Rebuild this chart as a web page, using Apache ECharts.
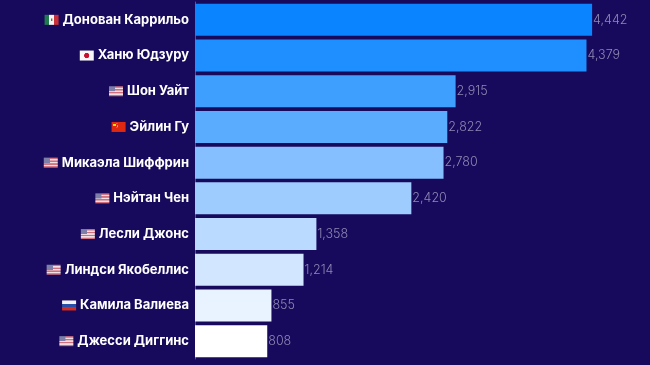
<!DOCTYPE html>
<html><head><meta charset="utf-8">
<style>html,body{margin:0;padding:0;background:#170a5c}#c{width:650px;height:365px}</style>
<script src="https://cdn.jsdelivr.net/npm/echarts@6/dist/echarts.min.js"></script>
</head><body><div id="c"></div>
<script>
const names = ['Донован Каррильо','Ханю Юдзуру','Шон Уайт','Эйлин Гу','Микаэла Шиффрин','Нэйтан Чен','Лесли Джонс','Линдси Якобеллис','Камила Валиева','Джесси Диггинс'];
const countries = ['mx','jp','us','cn','us','us','us','us','ru','us'];
const values = [4442,4379,2915,2822,2780,2420,1358,1214,855,808];
const palette = ['#0a84ff','#1f8fff','#3f9fff','#5aacff','#86bfff','#9fccff','#bbdaff','#d2e6ff','#e9f3ff','#ffffff'];

function flag(code){
  const W=48,H=33,c=document.createElement('canvas');c.width=W;c.height=H;
  const g=c.getContext('2d');
  const r=(col,x,y,w,h)=>{g.fillStyle=col;g.fillRect(x,y,w,h)};
  if(code==='mx'){r('#1f7a4d',0,0,16,H);r('#f4f4f4',16,0,16,H);r('#c8303a',32,0,16,H);r('#8a6a3a',21,12,6,8);}
  if(code==='jp'){r('#f7f7f7',0,0,W,H);g.fillStyle='#c8102e';g.beginPath();g.arc(24,16.5,9,0,7);g.fill();}
  if(code==='us'){for(let i=0;i<7;i++){r(i%2?'#f0dfe4':'#d0707e',0,i*H/7,W,H/7+1);}r('#7d7fa8',0,0,21,17);}
  if(code==='cn'){r('#de2910',0,0,W,H);r('#ffde00',6,6,8,8);r('#ffde00',17,4,3,3);r('#ffde00',20,9,3,3);r('#ffde00',20,14,3,3);r('#ffde00',17,18,3,3);}
  if(code==='ru'){r('#f4f4f4',0,0,W,11);r('#2a4fa8',0,11,W,11);r('#d52b1e',0,22,W,11);}
  return c;
}
const rich={name:{color:'#ffffff',fontFamily:'Inter',fontWeight:700,fontSize:13,lineHeight:16}};
['mx','jp','us','cn','ru'].forEach(k=>{rich[k]={width:14,height:10,backgroundColor:{image:flag(k)}}});
rich.gap={width:4,height:10};

const chart=echarts.init(document.getElementById('c'),null,{renderer:'canvas'});
chart.setOption({
  animation:false,
  backgroundColor:'#170a5c',
  grid:{left:195,top:2,width:447,height:357,containLabel:false},
  xAxis:{type:'value',min:0,max:5000,show:false},
  yAxis:{type:'category',inverse:true,data:names,
    axisTick:{show:false},
    axisLine:{show:true,lineStyle:{color:'#5a5288',width:1}},
    axisLabel:{margin:6,interval:0,rich,
      formatter:(v,i)=>`{${countries[i]}|}{gap|}{name|${v}}`}},
  series:[{type:'bar',data:values,barWidth:32,
    itemStyle:{color:p=>palette[p.dataIndex]},
    label:{show:true,position:'right',distance:1,color:'#8f89b3',fontFamily:'Inter',fontWeight:300,fontSize:12.5,
      formatter:p=>p.value.toLocaleString('en-US')}}]
});
</script></body></html>
